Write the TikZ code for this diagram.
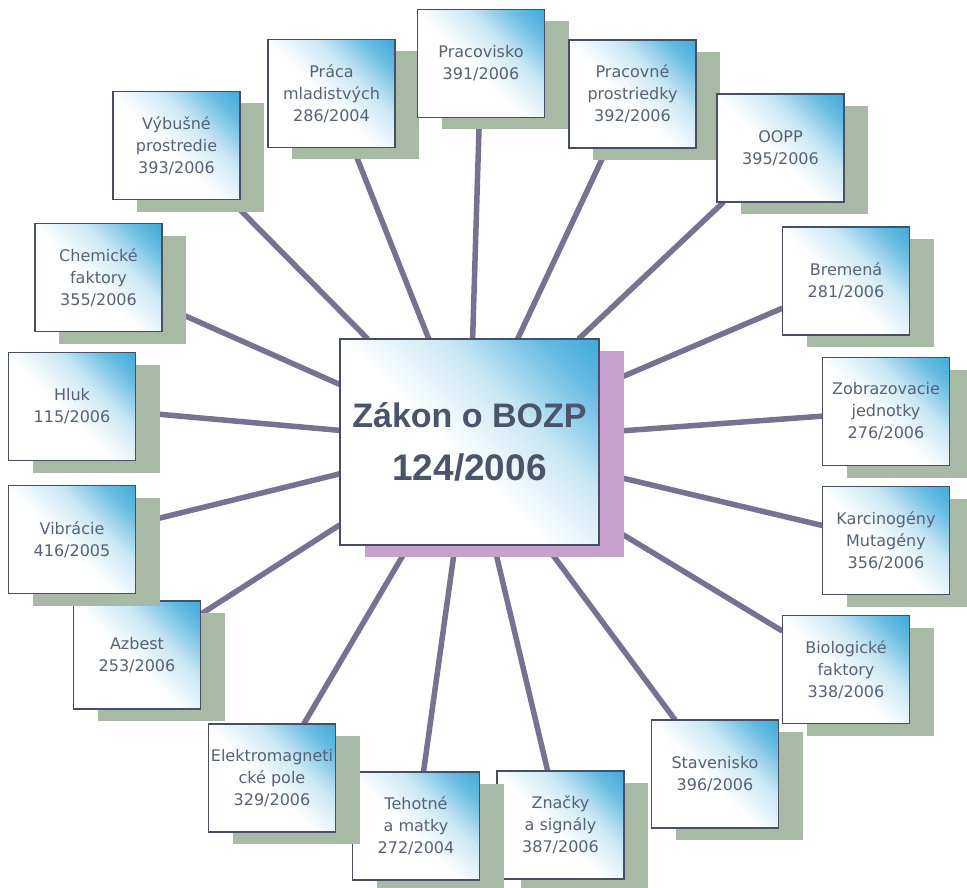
\documentclass[tikz,border=0pt]{standalone}
\usepackage{fontspec}
\setmainfont{DejaVu Sans}
\newfontfamily\hubfont{Liberation Sans}
\usepackage{tikz}
\usetikzlibrary{shadows,backgrounds}
\definecolor{glowblue}{RGB}{40,160,214}
\definecolor{framecolor}{RGB}{72,78,102}
\definecolor{cardtext}{RGB}{88,98,118}
\definecolor{hubtext}{RGB}{74,84,106}
\definecolor{shadowgreen}{RGB}{168,186,165}
\definecolor{shadowpink}{RGB}{200,160,205}
\definecolor{linkcolor}{RGB}{122,112,145}
\pgfdeclarehorizontalshading{boxglow}{100bp}{color(0bp)=(white); color(46bp)=(white);
	color(62bp)=(glowblue!25!white); color(76bp)=(glowblue!70!white); color(90bp)=(glowblue);
	color(100bp)=(glowblue)}
\tikzset{
	card/.style={draw=framecolor, line width=1.6pt, shade, shading=boxglow, shading angle=45,
		align=center, inner sep=0pt, outer sep=0pt},
	law/.style={card, minimum width=127pt, minimum height=108pt, text=cardtext,
		font=\fontsize{16}{22}\selectfont,
		drop shadow={shadow xshift=24pt, shadow yshift=-12pt, fill=shadowgreen, opacity=1}},
	hub/.style={card, minimum width=259pt, minimum height=206pt, text=hubtext,
		font=\hubfont\bfseries\fontsize{34}{53}\selectfont,
		drop shadow={shadow xshift=25pt, shadow yshift=-12pt, fill=shadowpink, opacity=1}},
	link/.style={draw=linkcolor, line width=5.5pt}
}

\begin{document}
\begin{tikzpicture}[x=1pt, y=-1pt]
	\useasboundingbox (0,0) rectangle (967,888);
	\node[hub] (zakon) at (469.5,442) {Zákon o BOZP\\{\fontsize{37}{53}\selectfont 124/2006}};
	% clockwise from the top
	\node[law] (mladistvi) at (331.5,93.5) {Práca\\mladistvých\\286/2004};
	\node[law] (pracovisko) at (481,63.5) {Pracovisko\\391/2006};
	\node[law] (prostriedky) at (632.5,94) {Pracovné\\prostriedky\\392/2006};
	\node[law] (oopp) at (780.5,148) {OOPP\\395/2006};
	\node[law] (bremena) at (846,281) {Bremená\\281/2006};
	\node[law] (zobrazovacie) at (886,411.5) {Zobrazovacie\\jednotky\\276/2006};
	\node[law] (karcinogeny) at (886,540.5) {Karcinogény\\Mutagény\\356/2006};
	\node[law] (biologicke) at (846,669.5) {Biologické\\faktory\\338/2006};
	\node[law] (stavenisko) at (715,774) {Stavenisko\\396/2006};
	\node[law] (znacky) at (560.5,825) {Značky\\a signály\\387/2006};
	\node[law] (tehotne) at (416,826) {Tehotné\\a matky\\272/2004};
	\node[law] (elektro) at (272,778) {Elektromagneti\\cké pole\\329/2006};
	\node[law] (azbest) at (137,655) {Azbest\\253/2006};
	\node[law] (vibracie) at (72,539.5) {Vibrácie\\416/2005};
	\node[law] (hluk) at (72,406.5) {Hluk\\115/2006};
	\node[law] (chemicke) at (98.5,277.5) {Chemické\\faktory\\355/2006};
	\node[law] (vybusne) at (176.5,145.5) {Výbušné\\prostredie\\393/2006};
	\begin{pgfonlayer}{background}
		\foreach \card in {mladistvi,pracovisko,prostriedky,oopp,bremena,zobrazovacie,
			karcinogeny,biologicke,stavenisko,znacky,tehotne,elektro,azbest,vibracie,
			hluk,chemicke,vybusne}
			\draw[link] (zakon) -- (\card);
	\end{pgfonlayer}
\end{tikzpicture}
\end{document}
